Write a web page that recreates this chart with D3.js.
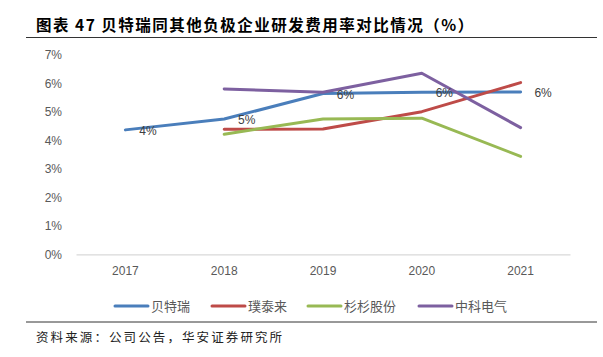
<!DOCTYPE html>
<html><head><meta charset="utf-8">
<script src="https://cdn.jsdelivr.net/npm/d3@7"></script>
<style>body{margin:0;background:#fff}svg{display:block}</style>
</head><body>
<script>
const years = ["2017","2018","2019","2020","2021"];
const seriesNames = ["贝特瑞","璞泰来","杉杉股份","中科电气"];
const btr = [4.37, 4.75, 5.65, 5.69, 5.70];
const ptl = [null, 4.39, 4.40, 5.01, 6.03];
const ssgf = [null, 4.22, 4.75, 4.78, 3.44];
const zkdq = [null, 5.81, 5.69, 6.36, 4.45];
const btrLabels = ["4%","5%","6%","6%","6%"];
const yTicks = [0,1,2,3,4,5,6,7];
const colors = ["#4a7ebb","#be4b48","#98b954","#7d60a0"];
const title = "图表 47 贝特瑞同其他负极企业研发费用率对比情况（%）";
const source = "资料来源：公司公告，华安证券研究所";

const W = 603, H = 357;
const svg = d3.select("body").append("svg").attr("width", W).attr("height", H);
const sans = "'Noto Sans CJK SC','Noto Sans',sans-serif";

svg.append("text").attr("x", 36).attr("y", 31).attr("font-family", sans)
  .attr("font-weight", "bold").attr("font-size", 15.5).attr("fill", "#000")
  .attr("letter-spacing", 1.5).text(title);
svg.append("line").attr("x1", 26).attr("x2", 597).attr("y1", 37.5).attr("y2", 37.5)
  .attr("stroke", "#333").attr("stroke-width", 1);

const x = d3.scaleBand().domain(years).range([76, 570]);
const y = d3.scaleLinear().domain([0, 7]).range([254.3, 55]);

// y tick labels
svg.append("g").selectAll("text").data(yTicks).join("text")
  .attr("x", 62).attr("y", d => y(d)).attr("dy", "0.35em").attr("text-anchor", "end")
  .attr("font-family", "'Liberation Sans',Arial,sans-serif").attr("font-size", 12).attr("fill", "#595959")
  .text(d => d + "%");

// x axis
const xAxis = d3.axisBottom(x).tickSize(0).tickPadding(12);
const gx = svg.append("g").attr("transform", `translate(0,${y(0)})`).call(xAxis);
gx.select(".domain").attr("stroke", "#d9d9d9").attr("stroke-width", 1.2);
gx.selectAll("text").attr("font-family", "'Liberation Sans',Arial,sans-serif")
  .attr("font-size", 12).attr("fill", "#595959");

const all = [btr, ptl, ssgf, zkdq];
const line = d3.line().defined(d => d.v != null)
  .x(d => x(d.yr) + x.bandwidth() / 2).y(d => y(d.v));
all.forEach((s, i) => {
  const pts = years.map((yr, j) => ({yr, v: s[j]}));
  svg.append("path").datum(pts).attr("d", line).attr("fill", "none")
    .attr("stroke", colors[i]).attr("stroke-width", 3).attr("stroke-linecap", "round")
    .attr("stroke-linejoin", "round");
});

// data labels for 贝特瑞
svg.append("g").selectAll("text").data(years).join("text")
  .attr("x", d => x(d) + x.bandwidth() / 2 + 22.5)
  .attr("y", (d, j) => y(btr[j]) + 1).attr("dy", "0.35em").attr("text-anchor", "middle")
  .attr("font-family", "'Liberation Sans',Arial,sans-serif").attr("font-size", 12).attr("fill", "#404040")
  .text((d, j) => btrLabels[j]);

// legend
const legX = [115, 212, 308, 419];
const lg = svg.append("g");
seriesNames.forEach((n, i) => {
  lg.append("line").attr("x1", legX[i]).attr("x2", legX[i] + 33).attr("y1", 306).attr("y2", 306)
    .attr("stroke", colors[i]).attr("stroke-width", 3).attr("stroke-linecap", "round");
  lg.append("text").attr("x", legX[i] + 36).attr("y", 306).attr("dy", "0.36em")
    .attr("font-family", sans).attr("font-size", 13).attr("fill", "#595959").text(n);
});

svg.append("line").attr("x1", 26).attr("x2", 597).attr("y1", 322).attr("y2", 322)
  .attr("stroke", "#333").attr("stroke-width", 1);
svg.append("text").attr("x", 36).attr("y", 338).attr("dy", "0.35em").attr("font-family", sans)
  .attr("font-size", 12.5).attr("letter-spacing", 2.1).attr("fill", "#222").text(source);
</script>
</body></html>
